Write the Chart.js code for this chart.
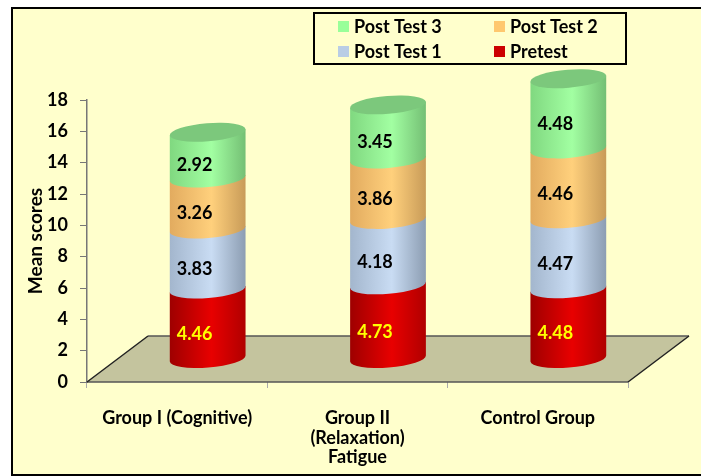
<!DOCTYPE html>
<html>
<head>
<meta charset="utf-8">
<script src="https://cdn.jsdelivr.net/npm/chart.js@4.4.0/dist/chart.umd.min.js"></script>
<style>
html, body { margin: 0; padding: 0; background: #fff; }
#wrap { position: relative; width: 701px; height: 476px; }
</style>
</head>
<body>
<div id="wrap"><canvas id="chart" width="701" height="476"></canvas></div>
<script>
// data
const groups = ['Group I (Cognitive)', ['Group II', '(Relaxation)', 'Fatigue'], 'Control Group'];
const seriesNames = ['Pretest', 'Post Test 1', 'Post Test 2', 'Post Test 3'];
const pretest = [4.46, 4.73, 4.48];
const postTest1 = [3.83, 4.18, 4.47];
const postTest2 = [3.26, 3.86, 4.46];
const postTest3 = [2.92, 3.45, 4.48];
const yMin = 0, yMax = 18, yStep = 2;

// colours: swatch, left edge, highlight, right edge, label colour
const styles = [
	{ swatch: '#cc0000', dark: '#9e0000', light: '#e80000', right: '#b00000', label: '#ffff00' },
	{ swatch: '#b9cde5', dark: '#a3b6cd', light: '#c9dcf3', right: '#8c9db2', label: '#000' },
	{ swatch: '#ffc86e', dark: '#e2ab5f', light: '#ffd07c', right: '#c89b58', label: '#000' },
	{ swatch: '#99ff99', dark: '#80d880', light: '#a2ffa2', right: '#74bf74', label: '#000' },
];
const topColor = '#7cc87c';

const FONT = 'Lato, "Open Sans", sans-serif';
const DEPTH_X = 61, DEPTH_Y = -46;
const TILT = -0.08;
const RY = 9;

function cylinderPath(ctx, cx, top, base, rx, ry) {
	const c = Math.cos(TILT), s = Math.sin(TILT);
	ctx.beginPath();
	ctx.moveTo(cx - rx * c, top - rx * s);
	ctx.ellipse(cx, base, rx, ry, TILT, Math.PI, 0, true);
	ctx.lineTo(cx + rx * c, top + rx * s);
	ctx.closePath();
}

const plot3d = {
	id: 'plot3d',
	beforeDraw(chart) {
		const { ctx, width, height } = chart;
		ctx.save();
		ctx.fillStyle = '#fff';
		ctx.fillRect(0, 0, width, height);
		ctx.fillStyle = '#ffffcc';
		ctx.fillRect(12, 8, width, height - 9);
		ctx.strokeStyle = '#000';
		ctx.lineWidth = 2;
		ctx.strokeRect(12, 8, width + 5, height - 9);
		ctx.restore();
	},
	beforeDatasetsDraw(chart) {
		const { ctx, chartArea } = chart;
		const y0 = chart.scales.y.getPixelForValue(0);
		const l = chartArea.left, r = chartArea.right;
		ctx.save();
		ctx.beginPath();
		ctx.moveTo(l, y0);
		ctx.lineTo(l + DEPTH_X, y0 + DEPTH_Y);
		ctx.lineTo(r + DEPTH_X, y0 + DEPTH_Y);
		ctx.lineTo(r, y0);
		ctx.closePath();
		ctx.fillStyle = '#c4c49e';
		ctx.fill();
		ctx.lineWidth = 1.5;
		ctx.strokeStyle = '#555';
		ctx.beginPath();
		ctx.moveTo(l + DEPTH_X, y0 + DEPTH_Y);
		ctx.lineTo(r + DEPTH_X, y0 + DEPTH_Y);
		ctx.moveTo(l, y0);
		ctx.lineTo(r, y0);
		ctx.stroke();
		ctx.strokeStyle = '#222';
		ctx.beginPath();
		ctx.moveTo(l, y0);
		ctx.lineTo(l + DEPTH_X, y0 + DEPTH_Y);
		ctx.moveTo(r, y0);
		ctx.lineTo(r + DEPTH_X, y0 + DEPTH_Y);
		ctx.stroke();
		ctx.restore();
	},
	afterDatasetsDraw(chart) {
		const { ctx } = chart;
		const dx = DEPTH_X / 2, dy = DEPTH_Y / 2;
		const n = chart.data.labels.length;
		const last = chart.data.datasets.length - 1;
		ctx.save();
		for (let i = 0; i < n; i++) {
			chart.data.datasets.forEach((ds, d) => {
				const el = chart.getDatasetMeta(d).data[i];
				const st = styles[d];
				const cx = el.x + dx;
				const rx = el.width / 2;
				const top = el.y + dy, base = el.base + dy;
				const g = ctx.createLinearGradient(cx - rx, 0, cx + rx, 0);
				g.addColorStop(0, st.dark);
				g.addColorStop(0.55, st.light);
				g.addColorStop(1, st.right);
				cylinderPath(ctx, cx, top, base, rx, RY);
				ctx.fillStyle = g;
				ctx.fill();
				if (d === last) {
					ctx.beginPath();
					ctx.ellipse(cx, top, rx, RY, TILT, 0, Math.PI * 2);
					ctx.fillStyle = topColor;
					ctx.fill();
				}
			});
		}
		// value labels
		ctx.font = 'bold 18px ' + FONT;
		ctx.textAlign = 'center';
		ctx.textBaseline = 'middle';
		chart.data.datasets.forEach((ds, d) => {
			chart.getDatasetMeta(d).data.forEach((el, i) => {
				ctx.fillStyle = styles[d].label;
				ctx.fillText(ds.data[i].toFixed(2), el.x + dx - 13, (el.y + el.base) / 2 + dy + 10);
			});
		});
		ctx.restore();
	},
	afterDraw(chart) {
		// legend box, two columns, reversed order
		const { ctx } = chart;
		const order = [3, 2, 1, 0];
		const cols = [338, 494], rows = [27, 52];
		ctx.save();
		ctx.lineWidth = 2;
		ctx.strokeStyle = '#000';
		ctx.strokeRect(314, 13, 312, 51);
		ctx.font = 'bold 18px ' + FONT;
		ctx.textBaseline = 'middle';
		ctx.textAlign = 'left';
		order.forEach((d, k) => {
			const x = cols[k % 2], y = rows[Math.floor(k / 2)];
			ctx.fillStyle = styles[d].swatch;
			ctx.fillRect(x, y - 6, 11, 11);
			ctx.fillStyle = '#000';
			ctx.fillText(chart.data.datasets[d].label, x + 16, y);
		});
		ctx.restore();
	},
};

const seriesData = [pretest, postTest1, postTest2, postTest3];

new Chart(document.getElementById('chart'), {
	type: 'bar',
	data: {
		labels: groups,
		datasets: seriesNames.map((name, d) => ({
			label: name,
			data: seriesData[d],
			backgroundColor: 'rgba(0,0,0,0)',
			borderWidth: 0,
			barThickness: 76,
		})),
	},
	options: {
		responsive: false,
		animation: false,
		devicePixelRatio: 1,
		layout: {
			padding: { top: 100, right: 73, bottom: 0, left: 0 },
		},
		plugins: {
			legend: { display: false },
			tooltip: { enabled: false },
		},
		scales: {
			x: {
				stacked: true,
				afterFit: (scale) => {
					scale.height = 94;
				},
				grid: {
					offset: true,
					drawOnChartArea: false,
					tickLength: 6,
					color: '#aaa',
				},
				border: { display: false },
				ticks: {
					color: '#000',
					padding: 20,
					maxRotation: 0,
					autoSkip: false,
					font: { family: FONT, size: 18, weight: 'bold', lineHeight: 1.1 },
				},
			},
			y: {
				stacked: true,
				min: yMin,
				max: yMax,
				afterFit: (scale) => {
					scale.width = 87;
				},
				grid: {
					drawOnChartArea: false,
					tickLength: 7,
					color: '#777',
				},
				border: { display: true, color: '#777', width: 1.5 },
				ticks: {
					stepSize: yStep,
					color: '#000',
					padding: 12,
					font: { family: FONT, size: 18, weight: 'bold' },
				},
				title: {
					display: true,
					text: 'Mean scores',
					color: '#000',
					padding: { top: 24, bottom: 0 },
					font: { family: FONT, size: 19, weight: 'bold' },
				},
			},
		},
	},
	plugins: [plot3d],
});
</script>
</body>
</html>
